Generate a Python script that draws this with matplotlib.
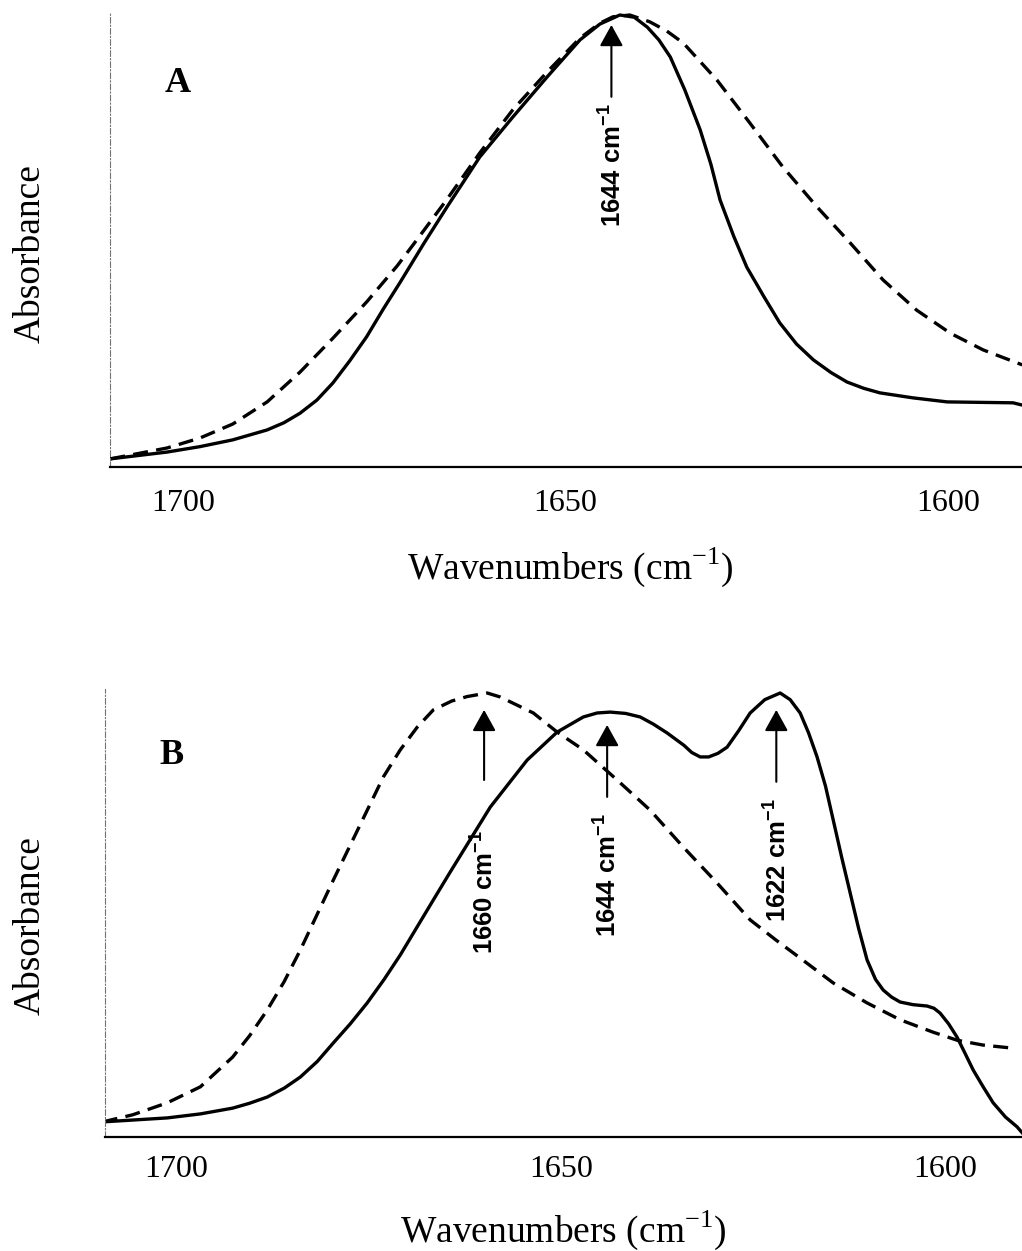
import matplotlib.pyplot as plt

plt.rcParams['font.family'] = ['Liberation Serif', 'DejaVu Serif']
plt.rcParams['mathtext.fontset'] = 'custom'
plt.rcParams['mathtext.rm'] = 'Liberation Serif'

# panel A: FTIR amide I band, two samples
wn_a_solid = [1709.5, 1702.1, 1697.8, 1693.5, 1689.0, 1686.8, 1684.7, 1682.5, 1680.4,
              1678.2, 1676.0, 1673.8, 1671.6, 1668.5, 1665.5, 1661.2, 1656.9, 1652.4,
              1648.1, 1645.5, 1642.9, 1641.0, 1639.3, 1637.8, 1636.3, 1634.4, 1632.4,
              1631.0, 1629.8, 1628.0, 1626.3, 1624.0, 1622.0, 1619.8, 1617.6, 1615.3,
              1613.2, 1611.0, 1608.9, 1604.6, 1600.1, 1591.5, 1590.3]
abs_a_solid = [0.018, 0.033, 0.045, 0.060, 0.082, 0.098, 0.119, 0.148, 0.186,
               0.235, 0.288, 0.350, 0.409, 0.495, 0.575, 0.686, 0.774, 0.863,
               0.945, 0.980, 1.000, 0.995, 0.973, 0.945, 0.907, 0.834, 0.746,
               0.670, 0.591, 0.510, 0.442, 0.375, 0.319, 0.272, 0.237, 0.209,
               0.188, 0.174, 0.164, 0.153, 0.144, 0.142, 0.137]

wn_a_dash = [1709.5, 1702.1, 1697.8, 1693.5, 1689.0, 1684.7, 1680.4, 1676.0, 1672.0,
             1669.9, 1665.5, 1661.2, 1656.9, 1652.4, 1648.1, 1645.5, 1643.8, 1641.6,
             1639.0, 1636.8, 1634.6, 1630.2, 1625.9, 1621.6, 1617.1, 1612.8, 1608.5,
             1604.1, 1599.7, 1595.4, 1590.3]
abs_a_dash = [0.018, 0.042, 0.064, 0.095, 0.144, 0.210, 0.285, 0.365, 0.445,
              0.492, 0.592, 0.695, 0.790, 0.874, 0.949, 0.982, 0.996, 1.000,
              0.985, 0.965, 0.938, 0.856, 0.761, 0.664, 0.575, 0.496, 0.414,
              0.347, 0.296, 0.259, 0.226]

# panel B
wn_b_solid = [1709.6, 1701.2, 1696.9, 1692.7, 1690.5, 1688.2, 1686.0, 1683.9, 1681.7,
              1679.6, 1677.4, 1675.2, 1673.0, 1670.9, 1666.6, 1664.4, 1659.2, 1654.4,
              1650.5, 1647.1, 1645.3, 1643.6, 1641.6, 1639.7, 1638.0, 1636.2, 1634.0,
              1633.0, 1631.9, 1630.8, 1629.6, 1628.4, 1626.9, 1625.4, 1623.5, 1621.5,
              1620.2, 1618.9, 1617.8, 1616.7, 1615.6, 1614.6, 1613.5, 1612.4, 1611.3,
              1610.2, 1609.1, 1608.1, 1607.0, 1605.9, 1604.2, 1602.4, 1601.5, 1600.7,
              1599.6, 1598.5, 1597.5, 1596.4, 1595.1, 1593.8, 1592.2, 1590.7, 1590.0]
abs_b_solid = [0.034, 0.043, 0.052, 0.065, 0.076, 0.090, 0.110, 0.135, 0.170,
               0.212, 0.255, 0.302, 0.355, 0.410, 0.534, 0.597, 0.743, 0.849,
               0.912, 0.946, 0.955, 0.957, 0.954, 0.946, 0.930, 0.910, 0.882,
               0.866, 0.856, 0.856, 0.864, 0.878, 0.915, 0.955, 0.985, 1.000,
               0.985, 0.955, 0.910, 0.856, 0.790, 0.714, 0.630, 0.550, 0.470,
               0.399, 0.355, 0.331, 0.315, 0.304, 0.298, 0.295, 0.290, 0.279,
               0.255, 0.225, 0.190, 0.151, 0.113, 0.077, 0.045, 0.023, 0.009]

wn_b_dash = [1709.6, 1705.7, 1701.2, 1696.9, 1692.7, 1690.5, 1688.2, 1686.0, 1683.9,
             1679.6, 1675.2, 1673.1, 1670.9, 1668.7, 1666.6, 1664.2, 1662.2, 1659.6,
             1657.9, 1653.6, 1650.5, 1647.1, 1642.7, 1638.4, 1634.1, 1629.7, 1625.4,
             1622.0, 1618.9, 1614.6, 1610.2, 1605.9, 1601.6, 1598.5, 1595.1, 1591.2]
abs_b_dash = [0.034, 0.050, 0.077, 0.113, 0.180, 0.228, 0.286, 0.350, 0.421,
              0.579, 0.736, 0.811, 0.872, 0.923, 0.962, 0.982, 0.992, 1.000,
              0.991, 0.955, 0.912, 0.872, 0.804, 0.736, 0.653, 0.572, 0.489,
              0.443, 0.403, 0.347, 0.302, 0.264, 0.236, 0.218, 0.207, 0.200]

# peak labels: (wavenumber, arrow tip, arrow tail, text top)
peaks_a = [(1644, 0.978, 0.819, 0.805)]
peaks_b = [(1660, 0.962, 0.804, 0.691),
           (1644, 0.928, 0.766, 0.730),
           (1622, 0.962, 0.800, 0.764)]

W, H = 1022, 1251
fig = plt.figure(figsize=(W / 100, H / 100), dpi=100)
axA = fig.add_axes([110 / W, 1 - 467 / H, 912 / W, 455 / H])
axB = fig.add_axes([105 / W, 1 - 1137 / H, 917 / W, 448 / H])


def style_axis(ax, xlim, ylim, pad, xlab_xy, ylab_xy):
    ax.set_xlim(*xlim)
    ax.set_ylim(*ylim)
    for side in ('top', 'right'):
        ax.spines[side].set_visible(False)
    ax.spines['left'].set_color('0.45')
    ax.spines['left'].set_linewidth(0.8)
    ax.spines['left'].set_linestyle((0, (5, 2, 1, 2)))
    ax.spines['bottom'].set_linewidth(1.6)
    ax.set_xticks([1700, 1650, 1600])
    ax.set_yticks([])
    ax.tick_params(axis='x', length=0, pad=pad, labelsize=23)
    ax.set_xlabel('Wavenumbers (cm$^{\\mathregular{-1}}$)', fontsize=27)
    ax.xaxis.set_label_coords(*xlab_xy)
    ax.xaxis.label.set_va('center')
    ax.set_ylabel('Absorbance', fontsize=27)
    ax.yaxis.set_label_coords(*ylab_xy)
    ax.yaxis.label.set_va('center')
    ax.yaxis.label.set_ha('center')


def mark_peaks(ax, peaks):
    for wn, tip, tail, top in peaks:
        ax.annotate('', xy=(wn, tip), xytext=(wn, tail),
                    arrowprops=dict(arrowstyle='-|>,head_length=0.65,head_width=0.36',
                                    mutation_scale=20, lw=1.5, color='k',
                                    shrinkA=0, shrinkB=0))
        ax.text(wn, top, '%d cm$^{\\mathregular{-1}}$' % wn, rotation=90,
                ha='center', va='top', fontsize=18.5, fontweight='bold',
                family=['Liberation Sans', 'DejaVu Sans'])


dash = (0, (4.5, 2.5))
axA.plot(wn_a_solid, abs_a_solid, color='k', lw=2.4)
axA.plot(wn_a_dash, abs_a_dash, color='k', lw=2.4, linestyle=dash)
style_axis(axA, (1709.54, 1590.33), (0, 455 / 452), 15.5,
           (0.505, -0.22), (-0.0877, 0.47))
mark_peaks(axA, peaks_a)

axB.plot(wn_b_solid, abs_b_solid, color='k', lw=2.4)
axB.plot(wn_b_dash, abs_b_dash, color='k', lw=2.4, linestyle=dash)
style_axis(axB, (1709.3, 1590.05), (0, 448 / 444), 13.0,
           (0.50, -0.2076), (-0.0818, 0.473))
mark_peaks(axB, peaks_b)

fig.text(178 / W, 1 - 83 / H, 'A', fontsize=26, fontweight='bold',
         ha='center', va='center')
fig.text(172 / W, 1 - 755 / H, 'B', fontsize=26, fontweight='bold',
         ha='center', va='center')

fig.savefig('out.png', dpi=100)
